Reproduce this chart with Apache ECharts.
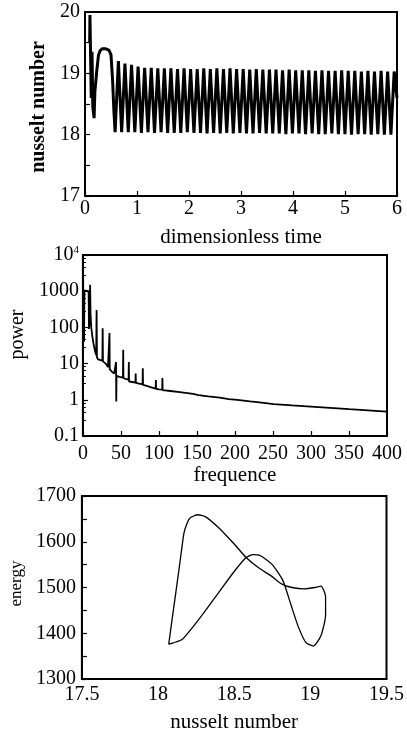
<!DOCTYPE html>
<html><head><meta charset="utf-8">
<script src="https://cdn.jsdelivr.net/npm/echarts@6/dist/echarts.min.js"></script>
<style>html,body{margin:0;padding:0;background:#fff}#c{width:407px;height:734px}</style>
</head><body><div id="c"></div>
<script>
// ---------- Chart 1: nusselt number vs dimensionless time ----------
const transientTime  = [0.09, 0.095, 0.105, 0.12, 0.135, 0.15, 0.175, 0.19, 0.225, 0.26, 0.29, 0.33, 0.40, 0.46, 0.50, 0.53, 0.555];
const transientNu    = [19.50, 19.95, 19.42, 18.60, 19.35, 18.45, 18.27, 18.70, 19.03, 19.30, 19.37, 19.40, 19.40, 19.38, 19.30, 18.90, 18.40];
const troughTime = [0.579,0.705,0.832,0.958,1.084,1.211,1.337,1.463,1.589,1.716,1.842,1.968,2.095,2.221,2.347,2.473,2.600,2.726,2.852,2.979,3.105,3.231,3.357,3.484,3.610,3.736,3.863,3.989,4.115,4.241,4.368,4.494,4.620,4.747,4.873,4.999,5.125,5.252,5.378,5.504,5.631,5.757,5.883];
const troughNu   = [18.04,18.04,18.04,18.04,18.03,18.04,18.03,18.04,18.03,18.03,18.03,18.04,18.03,18.03,18.02,18.03,18.02,18.03,18.02,18.03,18.02,18.02,18.03,18.02,18.02,18.02,18.01,18.02,18.02,18.01,18.02,18.01,18.01,18.02,18.01,18.01,18.00,18.01,18.01,18.00,18.01,18.00,18.00];
const peakTime   = [0.642,0.768,0.895,1.021,1.147,1.274,1.400,1.526,1.652,1.779,1.905,2.031,2.158,2.284,2.410,2.536,2.663,2.789,2.915,3.042,3.168,3.294,3.420,3.547,3.673,3.799,3.926,4.052,4.178,4.304,4.431,4.557,4.683,4.810,4.936,5.062,5.188,5.315,5.441,5.567,5.694,5.820,5.946];
const peakNu     = [19.20,19.16,19.14,19.11,19.09,19.09,19.08,19.08,19.08,19.07,19.08,19.07,19.07,19.08,19.07,19.08,19.07,19.08,19.07,19.07,19.06,19.07,19.06,19.06,19.06,19.05,19.06,19.05,19.05,19.05,19.04,19.05,19.04,19.04,19.05,19.04,19.04,19.03,19.04,19.03,19.04,19.03,19.03];
const endTime = [6.0];
const endNu = [18.6];

// ---------- Chart 2: power spectrum ----------
const specFreq  = [0,0.3,0.8,1.5,2.0,4.0,7.5,8.0,8.8,9.5,10.0,11.0,12.5,14.0,16.0,17.5,18.0,18.5,20.0,22.0,25.6,26.0,26.4,30.0,33.0,34.7,35.0,35.3,38.0,41.0,43.3,43.6,43.9,44.2,48.0,52.7,53.0,53.3,57.0,60.1,60.4,60.7,65.0,69.1,69.4,69.7,74.0,78.5,78.8,79.1,85.0,90.0,95.7,96.0,96.3,100.0,104.3,104.6,104.9,115,125,135,145,152,165,180,192,203,220,235,251,275,300,325,350,375,400];
const specPower = [10000,3000,60,40,1050,1050,1000,90,150,1500,250,100,55,35,22,17,300,15,13,13,12,95,11.5,10,8,7.5,70,7,6,5.3,4.8,11,0.9,4.6,4.3,4.1,24,4.0,3.7,3.6,11,3.2,3.1,3.0,5.3,2.95,2.8,2.65,7.4,2.6,2.4,2.2,2.05,3.5,2.0,1.95,1.9,4.0,1.85,1.75,1.65,1.55,1.45,1.35,1.25,1.15,1.05,0.99,0.9,0.83,0.76,0.7,0.65,0.6,0.55,0.51,0.47];

// ---------- Chart 3: energy vs nusselt number (phase loop) ----------
const loopNu     = [18.07,18.095,18.12,18.145,18.17,18.19,18.21,18.26,18.31,18.40,18.50,18.58,18.66,18.74,18.81,18.88,18.96,19.03,19.07,19.10,19.10,19.07,19.02,18.97,18.92,18.87,18.82,18.75,18.67,18.62,18.57,18.50,18.40,18.29,18.16,18.10,18.07];
const loopEnergy = [1376,1437,1497,1558,1619,1640,1652,1659,1655,1630,1595,1565,1543,1526,1508,1500,1497,1500,1503,1480,1440,1395,1372,1380,1415,1465,1515,1550,1570,1572,1563,1535,1490,1440,1387,1379,1376];

// build series data
const tsPairs = [];
transientTime.forEach((t,i)=>tsPairs.push([t, transientNu[i]]));
troughTime.forEach((t,i)=>{ tsPairs.push([t, troughNu[i]]); tsPairs.push([peakTime[i], peakNu[i]]); });
endTime.forEach((t,i)=>tsPairs.push([t, endNu[i]]));
const specPairs = specFreq.map((f,i)=>[f, specPower[i]]);
const loopPairs = loopNu.map((n,i)=>[n, loopEnergy[i]]);

const FONT = 'Liberation Serif';
const tickLabel = {color:'#000', fontFamily:FONT, fontSize:20};
const nameStyle = {color:'#000', fontFamily:FONT, fontSize:21};
const axLine = {show:true, lineStyle:{color:'#000', width:2}};
const inTick = {show:true, inside:true, length:5, lineStyle:{color:'#000', width:1.2}};
const minorIn = {show:true, splitNumber:2, length:5, lineStyle:{color:'#000', width:1.2}};
const plain = function(v){ return String(v); };

const chart = echarts.init(document.getElementById('c'), null, {renderer:'canvas'});
chart.setOption({
  backgroundColor:'#fff',
  animation:false,
  grid:[
    {left:85, top:12, width:312, height:184, show:true, borderColor:'#000', borderWidth:2},
    {left:74, top:255, width:313, height:181, show:true, borderColor:'#000', borderWidth:2},
    {left:77, top:496, width:312, height:184, show:true, borderColor:'#000', borderWidth:2}
  ],
  xAxis:[
    {gridIndex:0, type:'value', min:0, max:6, interval:1, name:'dimensionless time', nameLocation:'middle', nameGap:31,
     nameTextStyle:nameStyle, axisLine:axLine, axisTick:inTick, splitLine:{show:false},
     axisLabel:Object.assign({margin:3, formatter:plain}, tickLabel)},
    {gridIndex:1, type:'value', min:0, max:400, interval:50, name:'frequence', nameLocation:'middle', nameGap:23,
     nameTextStyle:nameStyle, axisLine:axLine, axisTick:inTick, splitLine:{show:false},
     axisLabel:Object.assign({margin:8, formatter:plain}, tickLabel)},
    {gridIndex:2, type:'value', min:17.5, max:19.5, interval:0.5, name:'nusselt number', nameLocation:'middle', nameGap:33,
     nameTextStyle:nameStyle, axisLine:axLine, axisTick:{show:false}, splitLine:{show:false},
     axisLabel:Object.assign({margin:6, formatter:plain}, tickLabel)}
  ],
  yAxis:[
    {gridIndex:0, type:'value', min:17, max:20, interval:1, name:'nusselt number', nameLocation:'middle', nameGap:24,
     nameTextStyle:Object.assign({}, nameStyle, {fontSize:20, fontWeight:'bold', padding:[0,6,0,0]}), axisLine:axLine, axisTick:inTick,
     minorTick:minorIn, splitLine:{show:false}, axisLabel:Object.assign({margin:5, formatter:plain}, tickLabel)},
    {gridIndex:1, type:'log', logBase:10, min:0.1, max:10000, name:'power', nameLocation:'middle', nameGap:45,
     nameTextStyle:Object.assign({}, nameStyle, {fontSize:20, padding:[0,0,0,22]}), axisLine:axLine, axisTick:inTick,
     minorTick:{show:true, splitNumber:5, length:3, lineStyle:{color:'#000', width:1}}, splitLine:{show:false},
     axisLabel:Object.assign({margin:4,
       formatter:function(v){ if (Math.abs(v-10000)<1) return '10{sup|4}'; if (Math.abs(v-0.1)<1e-6) return '0.1'; return String(Math.round(v)); },
       rich:{sup:{fontFamily:FONT, fontSize:11, padding:[0,0,10,0], color:'#000'}}}, tickLabel)},
    {gridIndex:2, type:'value', min:1300, max:1700, interval:100, name:'energy', nameLocation:'middle', nameGap:52,
     nameTextStyle:Object.assign({}, nameStyle, {fontSize:17, padding:[0,0,0,8]}), axisLine:axLine, axisTick:inTick,
     minorTick:minorIn, splitLine:{show:false}, axisLabel:Object.assign({margin:6, formatter:plain}, tickLabel)}
  ],
  series:[
    {type:'line', xAxisIndex:0, yAxisIndex:0, data:tsPairs, showSymbol:false, symbol:'none',
     lineStyle:{color:'#000', width:3}, silent:true},
    {type:'line', xAxisIndex:1, yAxisIndex:1, data:specPairs, showSymbol:false, symbol:'none',
     lineStyle:{color:'#000', width:1.8}, silent:true},
    {type:'line', xAxisIndex:2, yAxisIndex:2, data:loopPairs, showSymbol:false, symbol:'none', smooth:0.2,
     lineStyle:{color:'#000', width:1.3}, silent:true}
  ]
});
</script>
</body></html>
